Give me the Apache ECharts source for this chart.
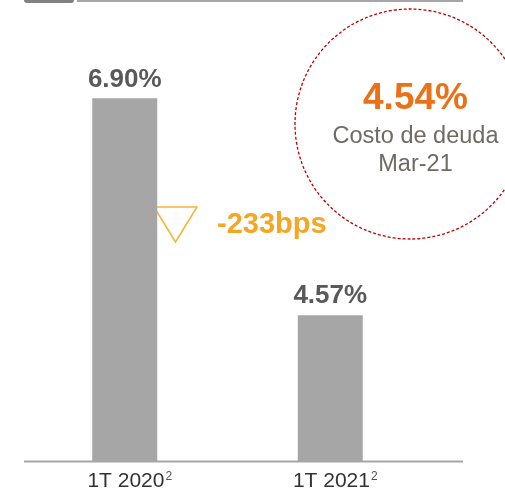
<!DOCTYPE html>
<html lang="es">
<head>
    <meta charset="UTF-8">
    <title>Costo de deuda</title>
    <style>
        html, body { margin: 0; padding: 0; background: #fff; }
        #container { width: 505px; height: 494px; }
    </style>
</head>
<body>
    <div id="container"></div>
    <script src="https://cdn.jsdelivr.net/npm/echarts@6/dist/echarts.min.js"></script>
    <script>
        // data
        var categories = ['1T 2020', '1T 2021'];
        var footnotes = ['2', '2'];
        var values = [6.90, 4.57];
        var changeText = '-233bps';
        var debtCost = '4.54%';
        var debtLabel = ['Costo de deuda', 'Mar-21'];

        var font = '"Liberation Sans", Arial, sans-serif';
        var chart = echarts.init(document.getElementById('container'));

        var option = {
            animation: false,
            grid: { left: 22, width: 411, top: 42.5, bottom: 32.5 },
            xAxis: {
                type: 'category',
                data: categories,
                axisLine: { show: false },
                axisTick: { show: false },
                axisLabel: {
                    margin: 9,
                    formatter: function (v, i) {
                        return '{a|' + v + '}{s|' + footnotes[i] + '}';
                    },
                    rich: {
                        a: { fontFamily: font, fontSize: 21, color: '#333333', padding: [0, 0, 0, 10] },
                        s: { fontFamily: font, fontSize: 12, color: '#555555', padding: [0, 0, 8, 1] }
                    }
                }
            },
            yAxis: {
                type: 'value',
                min: 3,
                max: 7.5,
                show: false,
                splitLine: { show: false }
            },
            series: [{
                type: 'bar',
                data: values,
                barWidth: 65,
                itemStyle: { color: '#A6A6A6' },
                label: {
                    show: true,
                    position: 'top',
                    distance: 6,
                    fontFamily: font,
                    fontSize: 26,
                    fontWeight: 'bold',
                    color: '#595959',
                    formatter: function (p) { return p.value.toFixed(2) + '%'; }
                }
            }],
            graphic: [
                // header tab and rule
                { type: 'rect', shape: { x: 24, y: -6, width: 50, height: 9, r: 3 }, style: { fill: '#808080' } },
                { type: 'line', shape: { x1: 77, y1: 1, x2: 463, y2: 1 }, style: { stroke: '#A6A6A6', lineWidth: 2 } },
                // baseline
                { type: 'line', shape: { x1: 24, y1: 461.5, x2: 463, y2: 461.5 }, style: { stroke: '#A6A6A6', lineWidth: 2 } },
                // change marker
                { type: 'polygon', shape: { points: [[154, 207], [197, 207], [175.5, 242]] },
                  style: { fill: 'none', stroke: '#F9B233', lineWidth: 1.5 } },
                { type: 'text', x: 217, y: 225,
                  style: { text: changeText, font: 'bold 29px ' + font, fill: '#F5A623', verticalAlign: 'middle' } },
                // debt cost bubble
                { type: 'circle', shape: { cx: 410, cy: 124, r: 115 },
                  style: { fill: 'none', stroke: '#C00000', lineWidth: 1.3, lineDash: [3, 2] } },
                { type: 'text', x: 415.5, y: 99,
                  style: { text: debtCost, font: 'bold 37px ' + font, fill: '#EC7016', align: 'center', verticalAlign: 'middle' } },
                { type: 'text', x: 415.5, y: 137,
                  style: { text: debtLabel[0], font: '23.5px ' + font, fill: '#6E6A64', align: 'center', verticalAlign: 'middle' } },
                { type: 'text', x: 415.5, y: 165,
                  style: { text: debtLabel[1], font: '23.5px ' + font, fill: '#6E6A64', align: 'center', verticalAlign: 'middle' } }
            ]
        };

        chart.setOption(option);
    </script>
</body>
</html>
